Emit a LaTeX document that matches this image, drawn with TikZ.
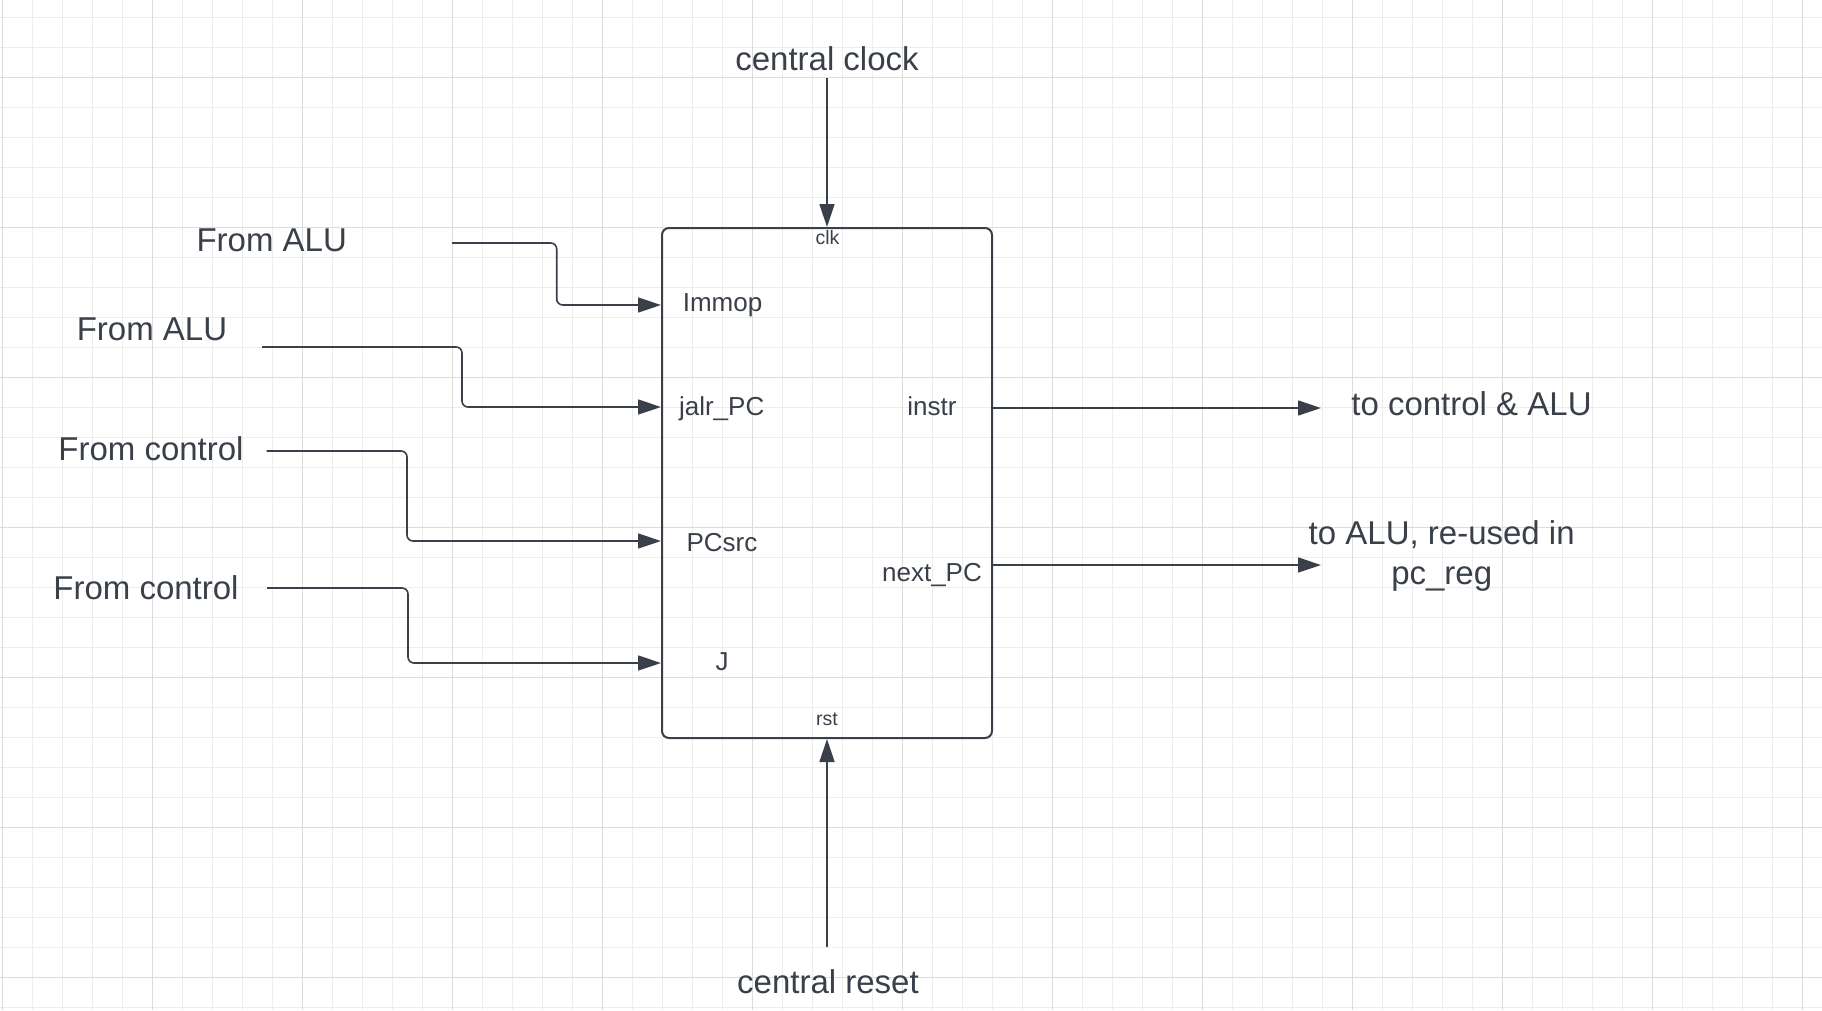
\documentclass[tikz,border=0pt]{standalone}
\usepackage{fontspec}
\setmainfont{Liberation Sans}
\usetikzlibrary{arrows.meta}
\definecolor{ink}{HTML}{3A4049}
\definecolor{gridlight}{HTML}{EDEDED}
\definecolor{griddark}{HTML}{DCDCDC}
\begin{document}
\begin{tikzpicture}[x=1pt,y=-1pt,
  big/.style={font=\fontsize{33}{39.5}\selectfont, text=ink, inner sep=0pt, anchor=base, align=center},
  portlbl/.style={font=\fontsize{26}{30}\selectfont, text=ink, inner sep=0pt, anchor=base},
  tinylbl/.style={font=\fontsize{19.5}{23}\selectfont, text=ink, inner sep=0pt, anchor=base},
  wire/.style={draw=ink, line width=1.6pt, -{Triangle[length=23pt,width=15pt]}, rounded corners=6pt},
  block/.style={draw=ink, line width=2pt, rounded corners=7pt, minimum width=330pt, minimum height=510pt, inner sep=0pt}]
\useasboundingbox (0,0) rectangle (1822,1010);
\fill[white] (0,0) rectangle (1822,1010);
% grid
\foreach \i in {0,...,60} { \draw[gridlight, line width=1pt] ({2.7+30*\i},0) -- ({2.7+30*\i},1010); }
\foreach \j in {0,...,33} { \draw[gridlight, line width=1pt] (0,{17.3+30*\j}) -- (1822,{17.3+30*\j}); }
\foreach \i in {0,...,12} { \draw[griddark, line width=1pt] ({2.7+150*\i},0) -- ({2.7+150*\i},1010); }
\foreach \j in {0,...,6} { \draw[griddark, line width=1pt] (0,{77.3+150*\j}) -- (1822,{77.3+150*\j}); }

% block
\node[block] (pc) at (827,483) {};

% port labels
\node[tinylbl] (clk) at (827.5,244) {clk};
\node[tinylbl] (rst) at (827,725) {rst};
\node[portlbl] (immop) at (722.5,311) {Immop};
\node[portlbl] (jalr) at (721.7,415) {jalr\_PC};
\node[portlbl] (pcsrc) at (722,551) {PCsrc};
\node[portlbl] (jlbl) at (722,670) {J};
\node[portlbl] (instr) at (932,415) {instr};
\node[portlbl] (nextpc) at (932,581) {next\_PC};

% external labels
\node[big] (clock) at (827,70) {central clock};
\node[big] (reset) at (828,993) {central reset};
\node[big] (alu1) at (271.7,251.7) {From ALU};
\node[big] (alu2) at (152,340) {From ALU};
\node[big] (ctl1) at (151,460) {From control};
\node[big] (ctl2) at (146,599) {From control};
\node[big] (toctl) at (1471.5,415) {to control \& ALU};
\node[big] (toalu) at (1441.7,584) {to ALU, re-used in\\pc\_reg};

% connector end points
\coordinate (clkin) at (827,78);
\coordinate (rstin) at (827,947);
\coordinate (a1) at (452,243);
\coordinate (a2) at (262,347);
\coordinate (c1) at (266.5,451);
\coordinate (c2) at (267,588);
\coordinate (pImm) at (pc.west |- 0,305);
\coordinate (pJalr) at (pc.west |- 0,407);
\coordinate (pSrc) at (pc.west |- 0,541);
\coordinate (pJ) at (pc.west |- 0,663);
\coordinate (pInstr) at (pc.east |- 0,408);
\coordinate (pNext) at (pc.east |- 0,565);
\coordinate (oInstr) at (1321,408);
\coordinate (oNext) at (1321,565);

% connectors
\draw[wire] (clkin) -- (pc.north);
\draw[wire] (rstin) -- (pc.south);
\draw[wire] (a1) -- (556.7,243) |- (pImm);
\draw[wire] (a2) -- (462,347) |- (pJalr);
\draw[wire] (c1) -- (407,451) |- (pSrc);
\draw[wire] (c2) -- (408,588) |- (pJ);
\draw[wire] (pInstr) -- (oInstr);
\draw[wire] (pNext) -- (oNext);
\end{tikzpicture}
\end{document}
